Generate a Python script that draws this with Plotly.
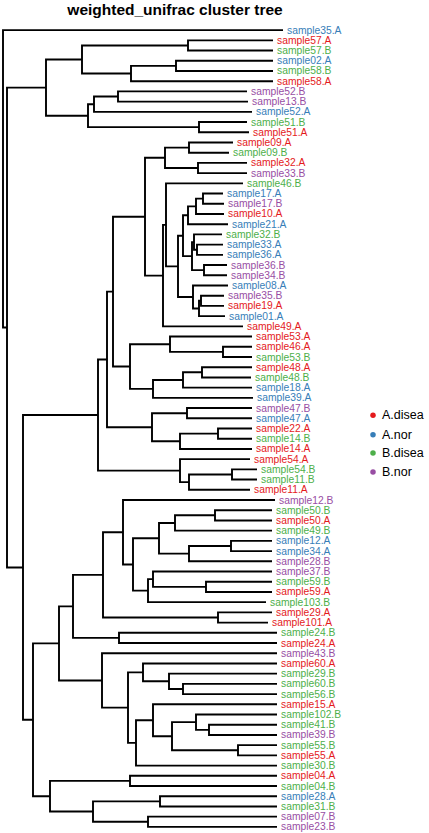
import plotly.graph_objects as go

# ---------------- data ----------------
leaf_names = [
    "sample35.A", "sample57.A", "sample57.B", "sample02.A", "sample58.B", "sample58.A",
    "sample52.B", "sample13.B", "sample52.A", "sample51.B", "sample51.A", "sample09.A",
    "sample09.B", "sample32.A", "sample33.B", "sample46.B", "sample17.A", "sample17.B",
    "sample10.A", "sample21.A", "sample32.B", "sample33.A", "sample36.A", "sample36.B",
    "sample34.B", "sample08.A", "sample35.B", "sample19.A", "sample01.A", "sample49.A",
    "sample53.A", "sample46.A", "sample53.B", "sample48.A", "sample48.B", "sample18.A",
    "sample39.A", "sample47.B", "sample47.A", "sample22.A", "sample14.B", "sample14.A",
    "sample54.A", "sample54.B", "sample11.B", "sample11.A", "sample12.B", "sample50.B",
    "sample50.A", "sample49.B", "sample12.A", "sample34.A", "sample28.B", "sample37.B",
    "sample59.B", "sample59.A", "sample103.B", "sample29.A", "sample101.A", "sample24.B",
    "sample24.A", "sample43.B", "sample60.A", "sample29.B", "sample60.B", "sample56.B",
    "sample15.A", "sample102.B", "sample41.B", "sample39.B", "sample55.B", "sample55.A",
    "sample30.B", "sample04.A", "sample04.B", "sample28.A", "sample31.B", "sample07.B",
    "sample23.B",
]

leaf_groups = [
    "A.nor", "A.disea", "B.disea", "A.nor", "B.disea", "A.disea",
    "B.nor", "B.nor", "A.nor", "B.disea", "A.disea", "A.disea",
    "B.disea", "A.disea", "B.nor", "B.disea", "A.nor", "B.nor",
    "A.disea", "A.nor", "B.disea", "A.nor", "A.nor", "B.nor",
    "B.nor", "A.nor", "B.nor", "A.disea", "A.nor", "A.disea",
    "A.disea", "A.disea", "B.disea", "A.disea", "B.disea", "A.nor",
    "A.nor", "B.nor", "A.nor", "A.disea", "B.disea", "A.disea",
    "A.disea", "B.disea", "B.disea", "A.disea", "B.nor", "B.disea",
    "A.disea", "B.disea", "A.nor", "A.nor", "B.nor", "B.nor",
    "B.disea", "A.disea", "B.disea", "A.disea", "A.disea", "B.disea",
    "A.disea", "B.nor", "A.disea", "B.disea", "B.disea", "B.disea",
    "A.disea", "B.disea", "B.disea", "B.nor", "B.disea", "A.disea",
    "B.disea", "A.disea", "B.disea", "A.nor", "B.disea", "B.nor",
    "B.nor",
]

# distance of every tip from the root
tip_depth = [
    2.80, 2.70, 2.70, 2.70, 2.70, 2.70,
    2.44, 2.45, 2.49, 2.44, 2.46, 2.30,
    2.26, 2.44, 2.44, 2.40, 2.20, 2.21,
    2.21, 2.25, 2.19, 2.20, 2.20, 2.24,
    2.24, 2.25, 2.21, 2.21, 2.22, 2.40,
    2.49, 2.49, 2.49, 2.49, 2.48, 2.49,
    2.50, 2.49, 2.49, 2.49, 2.49, 2.49,
    2.47, 2.54, 2.54, 2.47, 2.72, 2.69,
    2.69, 2.69, 2.69, 2.69, 2.69, 2.69,
    2.69, 2.69, 2.63, 2.69, 2.65, 2.74,
    2.74, 2.74, 2.74, 2.74, 2.74, 2.74,
    2.74, 2.74, 2.74, 2.74, 2.74, 2.74,
    2.74, 2.74, 2.74, 2.74, 2.74, 2.74,
    2.74,
]

groups = ["A.disea", "A.nor", "B.disea", "B.nor"]
group_colors = ["#E41A1C", "#377EB8", "#4DAF4A", "#984EA3"]

# Tree topology (Newick-like). The number after ')' is the node's distance from the root.
clades = {}


def define(name, text):
    clades[name] = text.format(**clades)


define("B1", "((sample57.A,sample57.B)1.85,((sample02.A,sample58.B)1.73,sample58.A)1.28)0.79")
define("B5", "(((sample52.B,sample13.B)1.15,sample52.A)0.91,(sample51.B,sample51.A)1.96)0.85")
define("N2", "({B1},{B5})0.43")
define("N10", "((sample09.A,sample09.B)1.86,(sample32.A,sample33.B)1.95)1.62")
define("V", "(((sample17.A,sample17.B)2.00,sample10.A)1.93,sample21.A)1.85")
define("W", "((sample32.B,(sample33.A,sample36.A)1.94)1.91,(sample36.B,sample34.B)2.01)1.89")
define("AA", "(sample08.A,((sample35.B,sample19.A)1.98,sample01.A)1.96)1.90")
define("P", "((sample46.B,(({V},{W})1.80,{AA})1.75)1.63,sample49.A)1.60")
define("N9", "({N10},{P})1.42")
define("N12", "((sample53.A,(sample46.A,sample53.B)2.20)1.67,"
              "(((sample48.A,sample48.B)1.99,sample18.A)1.80,sample39.A)1.50)1.27")
define("N13", "((sample47.B,sample47.A)1.84,((sample22.A,sample14.B)2.15,sample14.A)1.77)1.49")
define("N7", "(sample54.A,((sample54.B,sample11.B)2.29,sample11.A)1.86)1.77")
define("N4", "((({N9},{N12})1.10,{N13})1.04,{N7})0.95")
define("N19", "(((sample50.B,sample50.A)2.12,sample49.B)1.72,"
              "((sample12.A,sample34.A)2.28,sample28.B)1.86)1.56")
define("N22", "((sample37.B,(sample59.B,sample59.A)2.03)1.50,sample103.B)1.45")
define("N15", "(((sample12.B,({N19},{N22})1.30)1.20,(sample29.A,sample101.A)2.15)1.00,"
              "(sample24.B,sample24.A)1.16)0.70")
define("N25", "(sample60.A,(sample29.B,(sample60.B,sample56.B)1.80)1.66)1.40")
define("N27", "(sample15.A,((sample102.B,(sample41.B,sample39.B)2.06)1.93,"
              "(sample55.B,sample55.A)2.35)1.69)1.50")
define("N23", "(sample43.B,({N25},({N27},sample30.B)1.33)1.25)0.99")
define("N28", "((sample04.A,sample04.B)1.27,((sample28.A,sample31.B)1.57,"
              "(sample07.B,sample23.B)1.45)0.90)0.47")
define("N5", "(({N15},{N23})0.56,{N28})0.30")
define("ROOT", "(sample35.A,({N2},({N4},{N5})0.20)0.04)0.00")
newick = clades["ROOT"]


# ---------------- tree layout ----------------
def parse(s):
    pos = 0

    def node():
        nonlocal pos
        if s[pos] == "(":
            pos += 1
            kids = [node()]
            while s[pos] == ",":
                pos += 1
                kids.append(node())
            assert s[pos] == ")"
            pos += 1
            start = pos
            while pos < len(s) and s[pos] not in ",()":
                pos += 1
            return {"depth": float(s[start:pos]), "kids": kids}
        start = pos
        while s[pos] not in ",()":
            pos += 1
        name = s[start:pos]
        return {"name": name, "depth": tip_depth[leaf_names.index(name)], "kids": []}

    return node()


tree = parse(newick)
order = []


def assign_y(n):
    if not n["kids"]:
        n["y"] = len(order)
        order.append(n["name"])
    else:
        for k in n["kids"]:
            assign_y(k)
        n["y"] = (n["kids"][0]["y"] + n["kids"][-1]["y"]) / 2.0


assign_y(tree)
assert order == leaf_names

seg_x, seg_y = [], []


def collect(n):
    if not n["kids"]:
        return
    k0, k1 = n["kids"][0], n["kids"][-1]
    seg_x.extend([k0["depth"], n["depth"], n["depth"], k1["depth"], None])
    seg_y.extend([k0["y"], k0["y"], k1["y"], k1["y"], None])
    for k in n["kids"]:
        collect(k)


collect(tree)

color_of = dict(zip(groups, group_colors))
n_leaves = len(leaf_names)
FONT = "Liberation Sans, Arial, sans-serif"

fig = go.Figure()
fig.add_trace(go.Scatter(
    x=seg_x, y=seg_y, mode="lines",
    line=dict(color="black", width=1.9),
    hoverinfo="skip", showlegend=False,
))

annotations = []
for name, g, d in zip(leaf_names, leaf_groups, tip_depth):
    annotations.append(dict(
        x=d, y=leaf_names.index(name), xref="x", yref="y",
        text=name, showarrow=False, xanchor="left", yanchor="middle",
        xshift=1.5, font=dict(family=FONT, size=10.3, color=color_of[g]),
    ))

# legend (drawn manually to match the reference spacing)
leg_x = 3.70
leg_y = [37.7, 39.6, 41.4, 43.25]
fig.add_trace(go.Scatter(
    x=[leg_x] * len(groups), y=leg_y, mode="markers",
    marker=dict(color=group_colors, size=5.5),
    hoverinfo="skip", showlegend=False,
))
for g, yy in zip(groups, leg_y):
    annotations.append(dict(
        x=leg_x, y=yy, xref="x", yref="y", text=g, showarrow=False,
        xanchor="left", yanchor="middle", xshift=7,
        font=dict(family=FONT, size=12.5, color="black"),
    ))

fig.update_layout(
    width=429, height=833,
    margin=dict(l=0, r=0, t=24, b=0),
    paper_bgcolor="white", plot_bgcolor="white",
    hovermode=False,
    title=dict(text="<b>weighted_unifrac cluster tree</b>",
               x=175 / 429, xanchor="center", y=1 - 10 / 833, yanchor="middle",
               yref="container",
               font=dict(family=FONT, size=15.5, color="black")),
    xaxis=dict(range=[-0.03, 4.26], visible=False),
    yaxis=dict(range=[n_leaves - 1 + 0.6, -0.6], visible=False),
    annotations=annotations,
)

fig.write_html("out.html", config={"displayModeBar": False},
               post_script="document.body.style.margin='0';")
